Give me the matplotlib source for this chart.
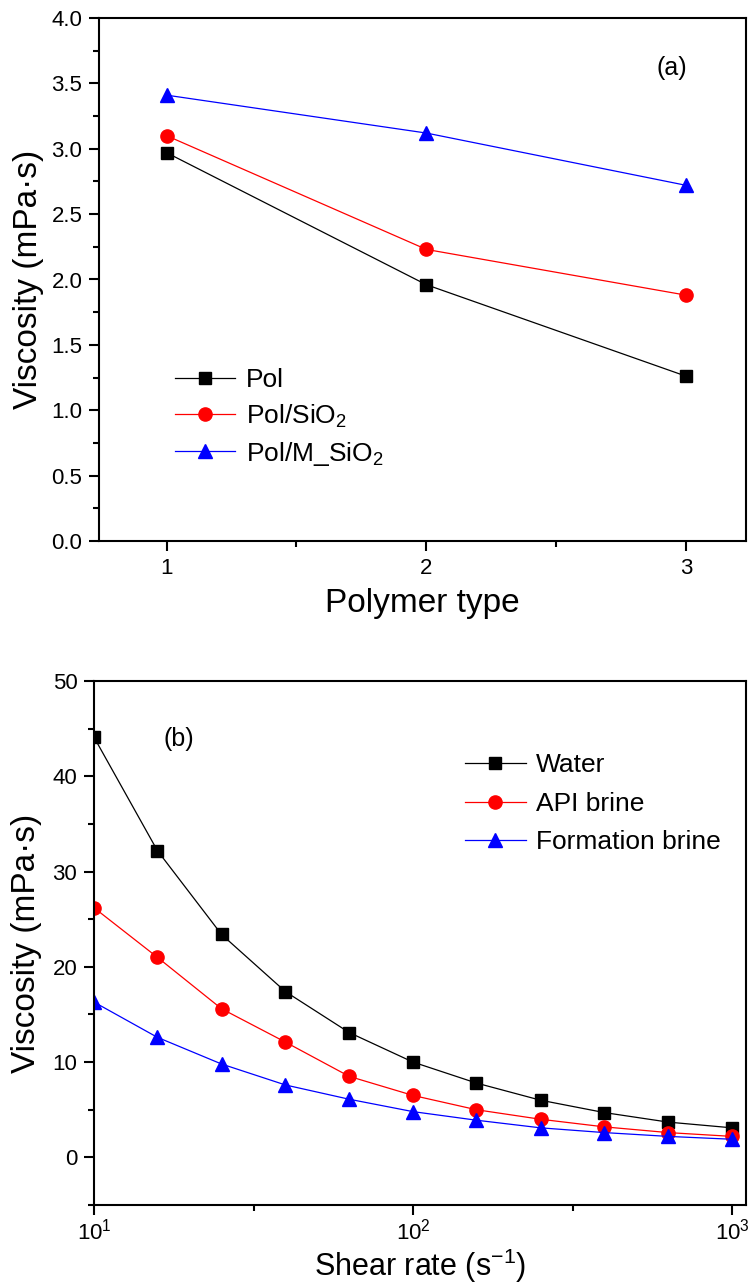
import matplotlib
matplotlib.use("Agg")
import matplotlib.pyplot as plt
from matplotlib.ticker import MultipleLocator, FixedLocator

plt.rcParams['font.family'] = ['Liberation Sans', 'DejaVu Sans']
plt.rcParams['mathtext.default'] = 'regular'

# panel (a)
polymer_type = [1, 2, 3]
visc_pol = [2.97, 1.96, 1.26]
visc_pol_sio2 = [3.10, 2.23, 1.88]
visc_pol_msio2 = [3.41, 3.12, 2.72]

# panel (b)
shear_rate = [10, 15.8, 25.1, 39.8, 63.1, 100, 158, 251, 398, 631, 1000]
visc_water = [44.1, 32.2, 23.4, 17.4, 13.1, 10.0, 7.8, 6.0, 4.7, 3.7, 3.1]
visc_api = [26.2, 21.0, 15.6, 12.1, 8.5, 6.5, 5.0, 4.0, 3.2, 2.6, 2.2]
visc_formation = [16.3, 12.6, 9.8, 7.6, 6.1, 4.8, 3.9, 3.1, 2.6, 2.2, 1.9]

fig = plt.figure(figsize=(7.5, 12.87), dpi=100)
ax1 = fig.add_axes([99/750, 1 - 541/1287, 647/750, 523/1287])
ax2 = fig.add_axes([94/750, 1 - 1205/1287, 652/750, 524/1287])


def style(ax):
    for s in ax.spines.values():
        s.set_linewidth(1.5)
    ax.tick_params(which='major', direction='out', length=7, width=1.5,
                   labelsize=16, top=False, right=False, pad=5)
    ax.tick_params(which='minor', direction='out', length=4, width=1.5,
                   top=False, right=False)


lw = 0.9
ax1.plot(polymer_type, visc_pol, '-s', color='black', lw=lw, ms=8.5, label='Pol')
ax1.plot(polymer_type, visc_pol_sio2, '-o', color='red', lw=lw, ms=9.5,
         label='Pol/SiO$_2$')
ax1.plot(polymer_type, visc_pol_msio2, '-^', color='blue', lw=lw, ms=9.5,
         label='Pol/M_SiO$_2$')
ax1.set_xlim(0.74, 3.23)
ax1.set_ylim(0, 4.0)
ax1.xaxis.set_major_locator(FixedLocator([1, 2, 3]))
ax1.xaxis.set_minor_locator(FixedLocator([1.5, 2.5]))
ax1.yaxis.set_major_locator(MultipleLocator(0.5))
ax1.yaxis.set_minor_locator(MultipleLocator(0.25))
ax1.yaxis.set_major_formatter(matplotlib.ticker.FormatStrFormatter('%.1f'))
style(ax1)
ax1.set_xlabel('Polymer type', fontsize=24)
ax1.set_ylabel('Viscosity (mPa·s)', fontsize=24)
ax1.xaxis.set_label_coords(0.5, -0.09)
ax1.yaxis.set_label_coords(-0.085, 0.5)
ax1.text(0.885, 0.905, '(a)', transform=ax1.transAxes, fontsize=18,
         ha='center', va='center')
ax1.legend(loc='upper left', bbox_to_anchor=(0.117, 0.33), frameon=False,
           fontsize=19, borderpad=0, borderaxespad=0, handlelength=2.3,
           handletextpad=0.4, labelspacing=0.38)

ax2.plot(shear_rate, visc_water, '-s', color='black', lw=lw, ms=8.5, label='Water')
ax2.plot(shear_rate, visc_api, '-o', color='red', lw=lw, ms=9.5, label='API brine')
ax2.plot(shear_rate, visc_formation, '-^', color='blue', lw=lw, ms=9.5,
         label='Formation brine')
ax2.set_xscale('log')
ax2.set_xlim(10, 1106)
ax2.set_ylim(-5, 50)
ax2.xaxis.set_major_locator(FixedLocator([10, 100, 1000]))
ax2.xaxis.set_minor_locator(FixedLocator([10**1.5, 10**2.5]))
ax2.yaxis.set_major_locator(MultipleLocator(10))
ax2.yaxis.set_minor_locator(MultipleLocator(5))
style(ax2)
ax2.tick_params(axis='x', which='major', pad=3)
ax2.set_xlabel('Shear rate (s$^{-1}$)', fontsize=22)
ax2.set_ylabel('Viscosity (mPa·s)', fontsize=24)
ax2.xaxis.set_label_coords(0.5, -0.08)
ax2.yaxis.set_label_coords(-0.08, 0.5)
ax2.text(0.13, 0.89, '(b)', transform=ax2.transAxes, fontsize=18,
         ha='center', va='center')
ax2.legend(loc='upper left', bbox_to_anchor=(0.569, 0.862), frameon=False,
           fontsize=19, borderpad=0, borderaxespad=0, handlelength=2.3,
           handletextpad=0.4, labelspacing=0.55)

fig.savefig('out.png', dpi=100)
